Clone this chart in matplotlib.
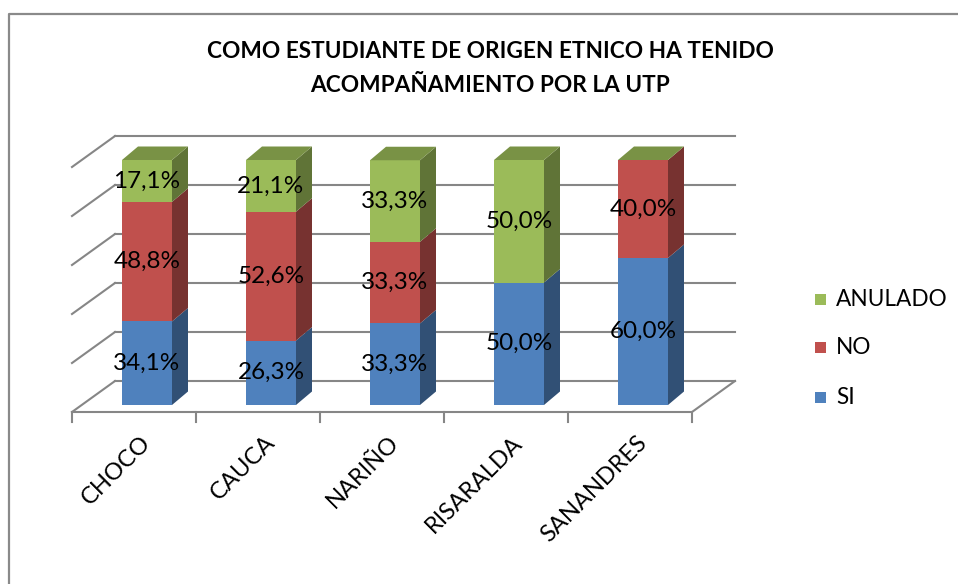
import numpy as np
import matplotlib.pyplot as plt
from matplotlib.patches import Polygon, Rectangle

# data
categories = ['CHOCO', 'CAUCA', 'NARIÑO', 'RISARALDA', 'SANANDRES']
si = [34.1, 26.3, 33.3, 50.0, 60.0]
no = [48.8, 52.6, 33.3, 0.0, 40.0]
anulado = [17.1, 21.1, 33.3, 50.0, 0.0]
series_names = ['SI', 'NO', 'ANULADO']
series_colors = ['#4F81BD', '#C0504D', '#9BBB59']
yticks = [0, 20, 40, 60, 80, 100]

FONT = ['Lato', 'DejaVu Sans']

# geometry of the fake 3d box (pixel units)
x0, x1 = 72, 692          # floor front edge
yfloor = 412
ddx, ddy = 43, -31        # wall depth offset
scale = 245 / 100.0       # px per percent
slot = (x1 - x0) / len(categories)
bar_w = 50
bar_off = 50              # bar front-left relative to slot start
bar_bottom = 405
bdx, bdy = 16, -13.5      # bar depth offset


def shade(c, f):
    r, g, b = plt.matplotlib.colors.to_rgb(c)
    return (r * f, g * f, b * f)


fig = plt.figure(figsize=(9.58, 5.84), dpi=100)
ax = fig.add_axes([0, 0, 1, 1])
ax.set_xlim(0, 958)
ax.set_ylim(584, 0)
ax.axis('off')

# outer border (only left and top visible, rest is cropped)
ax.plot([9, 9, 958], [584, 14, 14], color='#8a8a8a', lw=1.6)

gc = '#868686'
# walls and gridlines
for t in yticks:
    yf = yfloor - t * scale
    ax.plot([x0, x0 + ddx], [yf, yf + ddy], color=gc, lw=1.5)
    ax.plot([x0 + ddx, x1 + ddx], [yf + ddy, yf + ddy], color=gc, lw=1.5)
# floor
ax.plot([x0, x1, x1 + ddx], [yfloor, yfloor, yfloor + ddy], color=gc, lw=1.5)
for k in range(len(categories) + 1):
    xt = x0 + k * slot
    ax.plot([xt, xt], [yfloor, yfloor + 10], color=gc, lw=1.5)

# bars
for i, cat in enumerate(categories):
    xl = x0 + i * slot + bar_off
    xr = xl + bar_w
    base = 0.0
    vals = [si[i], no[i], anulado[i]]
    for j, v in enumerate(vals):
        col = series_colors[j]
        yb = bar_bottom - base * scale
        yt = bar_bottom - (base + v) * scale
        if v > 0:
            ax.add_patch(Polygon([(xl, yb), (xr, yb), (xr, yt), (xl, yt)],
                                 closed=True, fc=col, ec='none', zorder=3))
            ax.add_patch(Polygon([(xr, yb), (xr + bdx, yb + bdy),
                                  (xr + bdx, yt + bdy), (xr, yt)],
                                 closed=True, fc=shade(col, 0.62), ec='none',
                                 zorder=3))
            ax.text((xl + xr) / 2, (yb + yt) / 2, ('%.1f%%' % v).replace('.', ','),
                    ha='center', va='center', fontsize=17.5, family=FONT,
                    color='black', zorder=5)
        base += v
    # top face uses the last series color
    yt = bar_bottom - base * scale
    ax.add_patch(Polygon([(xl, yt), (xr, yt), (xr + bdx, yt + bdy),
                          (xl + bdx, yt + bdy)],
                         closed=True, fc=shade(series_colors[2], 0.78),
                         ec='none', zorder=4))
    # category label
    ax.text(x0 + (i + 0.5) * slot + 6, yfloor + 20, cat, rotation=45,
            rotation_mode='anchor', ha='right', va='top', fontsize=17,
            family=FONT)

# title
ax.text(490, 52, 'COMO ESTUDIANTE DE ORIGEN ETNICO HA TENIDO',
        ha='center', va='center', fontsize=16.3, fontweight='bold', family=FONT)
ax.text(490, 85, 'ACOMPAÑAMIENTO POR LA UTP',
        ha='center', va='center', fontsize=16.3, fontweight='bold', family=FONT)

# legend
leg_y = [397, 347, 299]
for name, col, ly in zip(series_names, series_colors, leg_y):
    ax.add_patch(Rectangle((815, ly - 5), 11, 11, fc=col, ec='none'))
    ax.text(836, ly, name, ha='left', va='center', fontsize=16.3, family=FONT)

fig.savefig('out.png', dpi=100)
